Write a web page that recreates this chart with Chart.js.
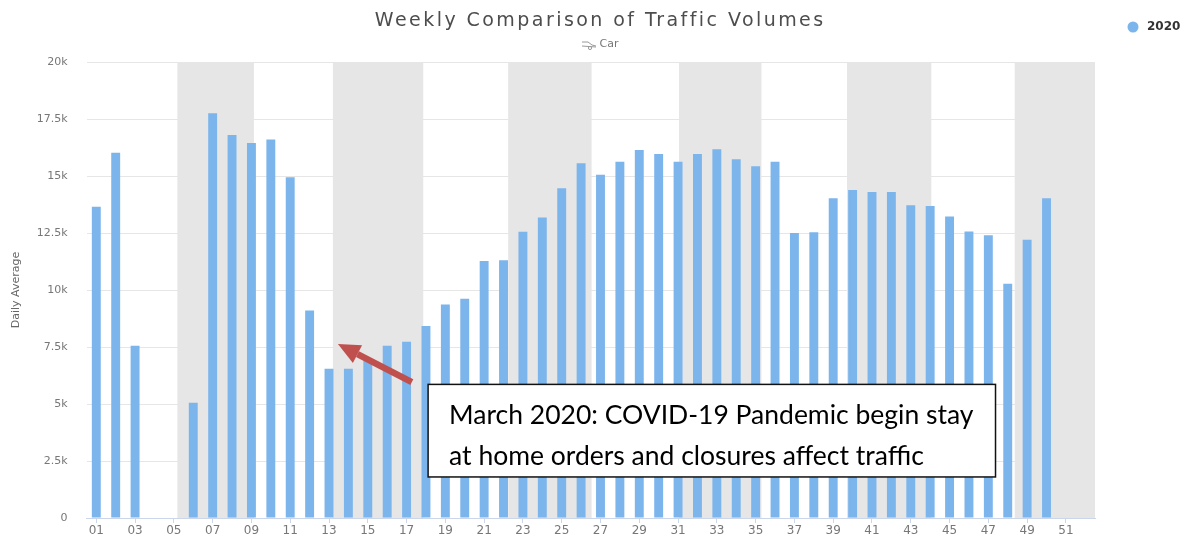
<!DOCTYPE html>
<html>
<head>
<meta charset="utf-8">
<title>Weekly Comparison of Traffic Volumes</title>
<script src="https://cdn.jsdelivr.net/npm/chart.js@4.4.1/dist/chart.umd.min.js"></script>
<style>
  html, body { margin: 0; padding: 0; background: #fff; }
</style>
</head>
<body>
<canvas id="chart" width="1193" height="539"></canvas>
<script>
// week labels on the x axis
const weeks = ['01', '02', '03', '04', '05', '06', '07', '08', '09', '10',
  '11', '12', '13', '14', '15', '16', '17', '18', '19', '20',
  '21', '22', '23', '24', '25', '26', '27', '28', '29', '30',
  '31', '32', '33', '34', '35', '36', '37', '38', '39', '40',
  '41', '42', '43', '44', '45', '46', '47', '48', '49', '50',
  '51', '52']

// daily average car volume per week, 2020 (no data for weeks 04, 05, 51, 52)
const volumes2020 = [13650, 16020, 7550, null, null, 5050, 17750, 16800, 16450, 16600,
  14950, 9100, 6550, 6550, 6900, 7550, 7730, 8420, 9360, 9620,
  11270, 11300, 12550, 13180, 14460, 15560, 15060, 15630, 16140, 15960,
  15630, 15960, 16170, 15730, 15430, 15630, 12500, 12530, 14020, 14390,
  14300, 14300, 13720, 13680, 13220, 12570, 12400, 10270, 12200, 14020,
  null, null]

const yTicks = [0, 2500, 5000, 7500, 10000, 12500, 15000, 17500, 20000]

// every other month is shaded (Feb, Apr, Jun, Aug, Oct, Dec), in week numbers
const shadedMonths = [[5.18, 9.13], [13.2, 17.86], [22.24, 26.54], [31.05, 35.3], [39.71, 44.06], [48.36, 52.5]]

const seriesName = '2020'
const barColor = '#7cb5ec'

const noteLines = ['March 2020: COVID-19 Pandemic begin stay', 'at home orders and closures affect traffic']

// fit canvas text to a width by spacing out the letters
function spacedText(ctx, text, x, y, width) {
    ctx.letterSpacing = '0px'
    const w = ctx.measureText(text).width
    const sp = Math.max(0, (width - w) / (text.length - 1))
    ctx.letterSpacing = sp + 'px'
    ctx.fillText(text, x + sp / 2, y)
    ctx.letterSpacing = '0px'
}

const decor = {
    id: 'decor',
    beforeDatasetsDraw(chart) {
        const { ctx, chartArea: a, scales: { x } } = chart
        ctx.save()
        ctx.fillStyle = '#e6e6e6'
        shadedMonths.forEach(([s, e]) => {
            const x0 = Math.max(a.left, x.getPixelForValue(s - 1))
            const x1 = Math.min(a.right, x.getPixelForValue(e - 1))
            ctx.fillRect(x0, a.top, x1 - x0, a.bottom - a.top)
        })
        ctx.restore()
    },
    afterDraw(chart) {
        const { ctx, scales: { x, y } } = chart
        ctx.save()

        // title + subtitle
        ctx.textAlign = 'center'
        ctx.textBaseline = 'middle'
        ctx.fillStyle = '#4d4d4d'
        ctx.font = '19px "DejaVu Sans"'
        spacedText(ctx, 'Weekly Comparison of Traffic Volumes', 599, 21, 448)
        ctx.fillStyle = '#777'
        ctx.font = '11px "DejaVu Sans"'
        ctx.fillText('Car', 609, 44)
        // little car icon
        ctx.strokeStyle = '#999'
        ctx.lineWidth = 1
        ctx.beginPath()
        ctx.moveTo(582, 42); ctx.lineTo(588, 42); ctx.lineTo(592, 45); ctx.lineTo(596, 46)
        ctx.moveTo(582, 46); ctx.lineTo(596, 47)
        ctx.stroke()
        ctx.beginPath()
        ctx.arc(590, 48, 1.6, 0, Math.PI * 2)
        ctx.stroke()

        // legend
        ctx.fillStyle = barColor
        ctx.beginPath()
        ctx.arc(1133, 27, 5.5, 0, Math.PI * 2)
        ctx.fill()
        ctx.fillStyle = '#333'
        ctx.textAlign = 'left'
        ctx.font = 'bold 12px "DejaVu Sans"'
        ctx.fillText(seriesName, 1147, 27)

        // arrow pointing at the March drop
        const tail = { x: x.getPixelForValue(16.27), y: y.getPixelForValue(5960) }
        const tip = { x: x.getPixelForValue(12.46), y: y.getPixelForValue(7630) }
        const ang = Math.atan2(tip.y - tail.y, tip.x - tail.x)
        const headLen = 22, headHalf = 10
        const base = { x: tip.x - headLen * Math.cos(ang), y: tip.y - headLen * Math.sin(ang) }
        ctx.strokeStyle = '#c0504d'
        ctx.fillStyle = '#c0504d'
        ctx.lineWidth = 6.5
        ctx.beginPath()
        ctx.moveTo(tail.x, tail.y)
        ctx.lineTo(base.x, base.y)
        ctx.stroke()
        ctx.beginPath()
        ctx.moveTo(tip.x, tip.y)
        ctx.lineTo(base.x + headHalf * Math.sin(ang), base.y - headHalf * Math.cos(ang))
        ctx.lineTo(base.x - headHalf * Math.sin(ang), base.y + headHalf * Math.cos(ang))
        ctx.closePath()
        ctx.fill()

        // note box
        const bx0 = x.getPixelForValue(17.11), bx1 = x.getPixelForValue(46.37)
        const by0 = y.getPixelForValue(5860), by1 = y.getPixelForValue(1800)
        ctx.fillStyle = '#fff'
        ctx.fillRect(bx0, by0, bx1 - bx0, by1 - by0)
        ctx.strokeStyle = '#111'
        ctx.lineWidth = 1.5
        ctx.strokeRect(bx0, by0, bx1 - bx0, by1 - by0)
        ctx.font = '26px Lato'
        const fit = 524 / ctx.measureText(noteLines[0]).width
        ctx.font = (26 * fit).toFixed(1) + 'px Lato'
        ctx.fillStyle = '#000'
        ctx.textBaseline = 'middle'
        const h = by1 - by0
        ctx.fillText(noteLines[0], bx0 + 21, by0 + h * 0.34)
        ctx.fillText(noteLines[1], bx0 + 21, by0 + h * 0.78)

        ctx.restore()
    }
}

new Chart(document.getElementById('chart'), {
    type: 'bar',
    data: {
        labels: weeks,
        datasets: [{
            label: seriesName,
            data: volumes2020,
            backgroundColor: barColor,
            borderWidth: 0,
            barPercentage: 0.46,
            categoryPercentage: 1.0
        }]
    },
    options: {
        responsive: false,
        animation: false,
        devicePixelRatio: 1,
        layout: { padding: { top: 62, right: 98, left: 0, bottom: 0 } },
        plugins: {
            legend: { display: false },
            title: { display: false },
            tooltip: { enabled: false }
        },
        scales: {
            x: {
                offset: true,
                afterFit(scale) { scale.height = 21 },
                grid: { drawOnChartArea: false, drawTicks: true, tickLength: 5, color: '#ccd6eb', offset: false },
                border: { display: true, color: '#ccd6eb' },
                ticks: {
                    autoSkip: true,
                    maxTicksLimit: 26,
                    maxRotation: 0,
                    minRotation: 0,
                    padding: 1,
                    color: '#777',
                    font: { family: 'DejaVu Sans', size: 12 }
                }
            },
            y: {
                min: 0,
                max: 20000,
                afterFit(scale) { scale.width = 86.6 },
                afterBuildTicks(scale) { scale.ticks = yTicks.map(v => ({ value: v })) },
                grid: { color: '#e6e6e6', drawTicks: true, tickLength: 16, tickColor: 'rgba(0,0,0,0)' },
                border: { display: false },
                title: {
                    display: true,
                    text: 'Daily Average',
                    color: '#666',
                    padding: { top: 10, bottom: 0 },
                    font: { family: 'DejaVu Sans', size: 11 }
                },
                ticks: {
                    padding: 3,
                    color: '#777',
                    font: { family: 'DejaVu Sans', size: 11 },
                    callback: v => v === 0 ? '0' : (v / 1000) + 'k'
                }
            }
        }
    },
    plugins: [decor]
})
</script>
</body>
</html>
